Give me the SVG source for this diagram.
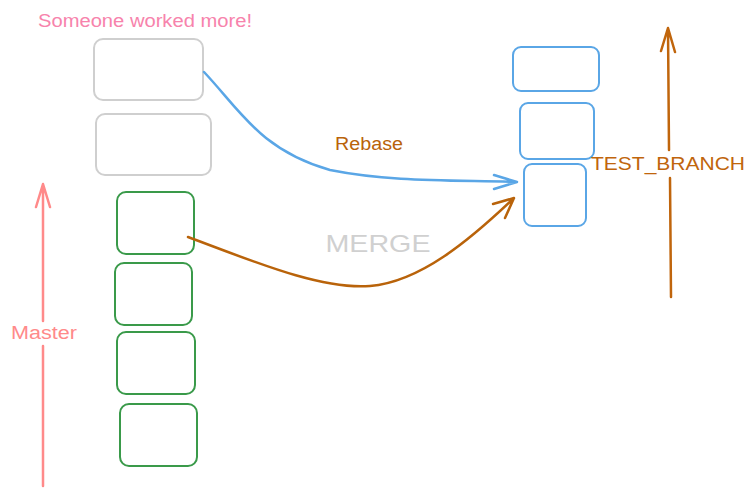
<svg xmlns="http://www.w3.org/2000/svg" width="755" height="494" viewBox="0 0 755 494">
<style>
.gray{fill:none;stroke:#cfcfcf;stroke-width:2}
.green{fill:none;stroke:#3a9a4a;stroke-width:2}
.blue{fill:none;stroke:#5aa6e6;stroke-width:2}
.t{font-family:"Liberation Sans",Arial,sans-serif}
.line{fill:none;stroke-linecap:round;stroke-linejoin:round}
</style>
<rect width="755" height="494" fill="#ffffff"/>
<g id="label-someone"><text class="t" x="145" y="27" text-anchor="middle" font-size="18" fill="#f783ac" textLength="214" lengthAdjust="spacingAndGlyphs">Someone worked more!</text></g>
<g id="gray1"><rect class="gray" x="94" y="39" width="109" height="61" rx="9"/></g>
<g id="gray2"><rect class="gray" x="96" y="114" width="115" height="61" rx="9"/></g>
<g id="green1"><rect class="green" x="117" y="192" width="77" height="62" rx="9"/></g>
<g id="green2"><rect class="green" x="115" y="263" width="77" height="62" rx="9"/></g>
<g id="green3"><rect class="green" x="117" y="332" width="78" height="62" rx="9"/></g>
<g id="green4"><rect class="green" x="120" y="404" width="77" height="62" rx="9"/></g>
<g id="blue1"><rect class="blue" x="513" y="47" width="86" height="44" rx="8"/></g>
<g id="blue2"><rect class="blue" x="520" y="103" width="74" height="56" rx="8"/></g>
<g id="blue3"><rect class="blue" x="524" y="164" width="62" height="62" rx="8"/></g>
<g id="master">
<path class="line" d="M43 486 L43 346 M43 321 L43 184 M36 207 L43 184 L50 207" stroke="#ff8a8a" stroke-width="2.5"/>
<text class="t" x="44" y="339" text-anchor="middle" font-size="18" fill="#ff8a8a" textLength="66" lengthAdjust="spacingAndGlyphs">Master</text>
</g>
<g id="test-branch">
<path class="line" d="M671 297 L670 178 M669 150 L668 28 M661 51 L668 28 L675 52" stroke="#c0650c" stroke-width="2.5"/>
<text class="t" x="668" y="170" text-anchor="middle" font-size="19" fill="#c0650c" textLength="154" lengthAdjust="spacingAndGlyphs">TEST_BRANCH</text>
</g>
<g id="connectors">
<path class="line" d="M204 72 C240 110 260 150 330 170 C390 182 450 180 517 182 M494 175 L517 182 L494 189" stroke="#5aa6e6" stroke-width="2.5"/>
<path class="line" d="M188 237 C250 260 320 290 370 286 C420 282 470 240 514 198 M493 204 L514 198 L505 218" stroke="#b9630a" stroke-width="2.5"/>
<text class="t" x="369" y="150" text-anchor="middle" font-size="18" fill="#b9630a" textLength="68" lengthAdjust="spacingAndGlyphs">Rebase</text>
<text class="t" x="378" y="252" text-anchor="middle" font-size="24" fill="#d0d0d0" textLength="105" lengthAdjust="spacingAndGlyphs">MERGE</text>
</g>
</svg>
